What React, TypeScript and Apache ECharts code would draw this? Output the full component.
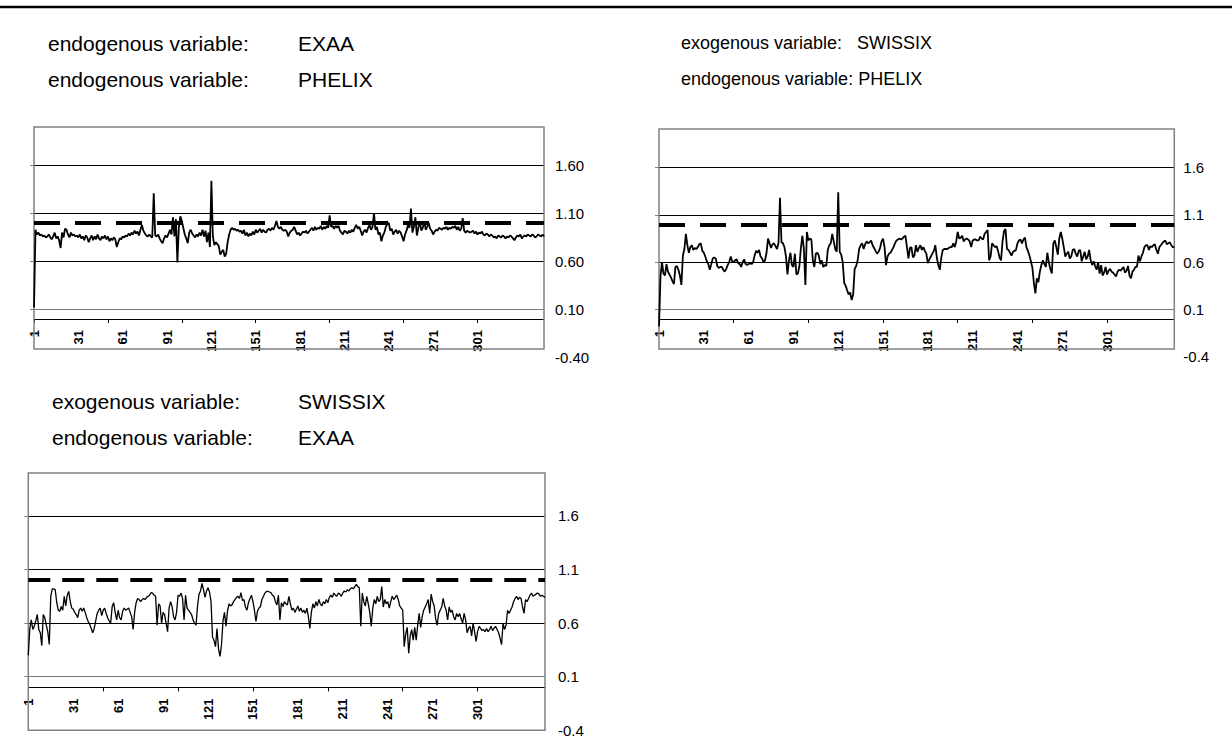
import React, { useEffect, useRef } from "react";
import * as echarts from "echarts";

const N = 346;
const categories: string[] = Array.from({ length: N }, (_, i) => String(i + 1));
const CRITICAL_VALUE = 1.0;
const Y_MIN = -0.4;
const Y_MAX = 2.0;
const Y_STEP = 0.5;
const LAST_LABEL_INDEX = 300;

// panel 1: endogenous EXAA / endogenous PHELIX
const exaaPhelix: number[] = [
  0.12, 0.93, 0.88, 0.90, 0.87, 0.88, 0.86, 0.87, 0.85, 0.86,
  0.88, 0.85, 0.83, 0.86, 0.90, 0.84, 0.86, 0.82, 0.74, 0.90,
  0.85, 0.94, 0.93, 0.88, 0.85, 0.90, 0.87, 0.88, 0.86, 0.87,
  0.85, 0.88, 0.84, 0.86, 0.82, 0.87, 0.85, 0.80, 0.84, 0.87,
  0.82, 0.86, 0.83, 0.88, 0.84, 0.82, 0.86, 0.84, 0.87, 0.83,
  0.86, 0.81, 0.84, 0.82, 0.85, 0.83, 0.75, 0.80, 0.84, 0.83,
  0.86, 0.85, 0.87, 0.86, 0.89, 0.87, 0.90, 0.88, 0.92, 0.89,
  0.91, 0.87, 0.93, 0.98, 0.92, 0.89, 0.87, 0.86, 0.88, 0.86,
  0.85, 1.31, 0.87, 0.86, 0.88, 0.84, 0.81, 0.79, 0.84, 0.87,
  0.85, 0.89, 0.93, 0.88, 1.06, 0.86, 1.04, 0.59, 0.96, 1.07,
  1.02, 0.95, 0.88, 0.84, 0.79, 0.90, 0.93, 0.89, 0.87, 0.85,
  0.88, 0.86, 0.90, 0.87, 0.93, 0.86, 0.92, 0.80, 0.90, 0.75,
  1.44, 0.86, 0.77, 0.80, 0.78, 0.76, 0.67, 0.70, 0.72, 0.65,
  0.68, 0.80, 0.88, 0.93, 0.95, 0.93, 0.94, 0.92, 0.93, 0.91,
  0.92, 0.89, 0.93, 0.87, 0.90, 0.86, 0.89, 0.87, 0.91, 0.88,
  0.93, 0.90, 0.92, 0.94, 0.90, 0.93, 0.91, 0.90, 0.93, 0.94,
  0.92, 0.95, 0.93, 0.97, 1.02, 0.96, 0.94, 0.96, 0.93, 0.92,
  0.93, 0.91, 0.86, 0.90, 0.92, 0.93, 0.96, 0.92, 0.88, 0.90,
  0.87, 0.89, 0.91, 0.90, 0.92, 0.89, 0.91, 0.93, 0.95, 0.92,
  0.96, 0.93, 0.95, 0.94, 0.97, 0.93, 0.96, 0.94, 0.97, 0.95,
  1.08, 0.96, 0.97, 0.94, 0.97, 0.95, 0.97, 0.92, 0.90, 0.88,
  0.92, 0.91, 0.89, 0.92, 0.90, 0.93, 0.91, 0.95, 0.98, 0.94,
  0.96, 0.92, 0.87, 0.91, 0.93, 0.90, 0.95, 0.98, 0.93, 0.96,
  1.10, 0.93, 0.96, 0.88, 0.90, 0.81, 0.87, 0.90, 0.96, 0.99,
  1.00, 0.92, 0.94, 0.88, 0.91, 0.93, 0.89, 0.92, 0.90, 0.86,
  0.81, 0.88, 0.92, 0.98, 0.95, 1.15, 0.90, 0.96, 1.06, 0.87,
  0.95, 1.02, 0.92, 0.95, 1.02, 0.93, 0.96, 1.00, 0.94, 0.92,
  0.88, 0.91, 0.93, 0.92, 0.95, 0.94, 0.93, 0.95, 0.94, 0.96,
  0.93, 0.95, 0.94, 0.96, 0.95, 0.97, 0.93, 0.96, 0.92, 0.94,
  1.05, 0.92, 0.90, 0.92, 0.91, 0.90, 0.91, 0.92, 0.89, 0.91,
  0.88, 0.90, 0.89, 0.91, 0.88, 0.87, 0.89, 0.88, 0.86, 0.88,
  0.87, 0.85, 0.86, 0.84, 0.87, 0.86, 0.85, 0.87, 0.86, 0.84,
  0.86, 0.85, 0.87, 0.86, 0.84, 0.82, 0.85, 0.87, 0.86, 0.88,
  0.84, 0.86, 0.87, 0.86, 0.88, 0.87, 0.86, 0.88, 0.87, 0.85,
  0.86, 0.88, 0.87, 0.86, 0.88, 0.86,
];

// panel 2: exogenous SWISSIX / endogenous PHELIX
const swissixPhelix: number[] = [
  -0.08, 0.45, 0.60, 0.48, 0.46, 0.58, 0.50, 0.47, 0.44, 0.40,
  0.37, 0.55, 0.56, 0.52, 0.46, 0.36, 0.67, 0.74, 0.90, 0.78,
  0.70, 0.76, 0.78, 0.73, 0.75, 0.74, 0.76, 0.79, 0.80, 0.72,
  0.70, 0.66, 0.61, 0.58, 0.52, 0.58, 0.64, 0.65, 0.64, 0.56,
  0.54, 0.55, 0.55, 0.52, 0.50, 0.53, 0.57, 0.60, 0.66, 0.61,
  0.60, 0.62, 0.63, 0.59, 0.58, 0.55, 0.60, 0.63, 0.58, 0.57,
  0.58, 0.59, 0.58, 0.60, 0.67, 0.72, 0.70, 0.73, 0.66, 0.64,
  0.60, 0.62, 0.70, 0.85, 0.80, 0.75, 0.79, 0.80, 0.77, 0.74,
  0.80, 1.28, 0.81, 0.80, 0.76, 0.66, 0.47, 0.62, 0.70, 0.57,
  0.55, 0.69, 0.47, 0.48, 0.56, 0.75, 0.88, 0.74, 0.36, 0.92,
  0.83, 0.85, 0.84, 0.62, 0.55, 0.69, 0.70, 0.67, 0.58, 0.62,
  0.55, 0.57, 0.56, 0.73, 0.78, 0.80, 0.90, 0.82, 0.74, 0.71,
  1.34, 0.71, 0.68, 0.60, 0.38, 0.35, 0.30, 0.26, 0.28, 0.20,
  0.26, 0.53, 0.56, 0.62, 0.74, 0.78, 0.80, 0.74, 0.79, 0.82,
  0.80, 0.81, 0.83, 0.78, 0.75, 0.72, 0.69, 0.71, 0.75, 0.82,
  0.85, 0.76, 0.57, 0.66, 0.69, 0.70, 0.73, 0.76, 0.80, 0.83,
  0.84, 0.85, 0.84, 0.85, 0.87, 0.88, 0.76, 0.64, 0.75, 0.76,
  0.65, 0.67, 0.78, 0.71, 0.75, 0.78, 0.73, 0.76, 0.72, 0.69,
  0.59, 0.63, 0.66, 0.69, 0.72, 0.78, 0.65, 0.57, 0.52, 0.65,
  0.73, 0.74, 0.74, 0.74, 0.75, 0.76, 0.76, 0.80, 0.76, 0.82,
  0.92, 0.85, 0.86, 0.88, 0.82, 0.84, 0.85, 0.84, 0.82, 0.76,
  0.83, 0.84, 0.84, 0.83, 0.83, 0.87, 0.85, 0.84, 0.90, 0.92,
  0.94, 0.62, 0.66, 0.80, 0.78, 0.76, 0.77, 0.72, 0.65, 0.62,
  0.82, 0.93, 0.95, 0.74, 0.73, 0.70, 0.67, 0.71, 0.72, 0.73,
  0.80, 0.83, 0.84, 0.80, 0.84, 0.86, 0.76, 0.72, 0.67, 0.61,
  0.54, 0.38, 0.27, 0.43, 0.39, 0.50, 0.57, 0.62, 0.58, 0.55,
  0.70, 0.60, 0.53, 0.48, 0.80, 0.83, 0.76, 0.68, 0.85, 0.92,
  0.85, 0.76, 0.66, 0.69, 0.71, 0.64, 0.66, 0.73, 0.74, 0.69,
  0.66, 0.72, 0.73, 0.61, 0.66, 0.71, 0.63, 0.66, 0.73, 0.62,
  0.57, 0.61, 0.56, 0.52, 0.60, 0.48, 0.57, 0.46, 0.49, 0.55,
  0.47, 0.51, 0.53, 0.50, 0.49, 0.47, 0.45, 0.50, 0.52, 0.51,
  0.53, 0.55, 0.49, 0.51, 0.56, 0.46, 0.43, 0.50, 0.52, 0.55,
  0.55, 0.67, 0.61, 0.66, 0.70, 0.76, 0.78, 0.78, 0.73, 0.77,
  0.76, 0.78, 0.79, 0.73, 0.69, 0.76, 0.78, 0.80, 0.82, 0.83,
  0.79, 0.80, 0.81, 0.78, 0.76, 0.76,
];

// panel 3: exogenous SWISSIX / endogenous EXAA
const swissixExaa: number[] = [
  0.30, 0.55, 0.63, 0.54, 0.57, 0.62, 0.68, 0.54, 0.51, 0.39,
  0.68, 0.65, 0.58, 0.52, 0.40, 0.85, 0.92, 0.92, 0.91, 0.79,
  0.72, 0.71, 0.755, 0.72, 0.85, 0.76, 0.86, 0.895, 0.80, 0.74,
  0.73, 0.70, 0.68, 0.65, 0.72, 0.74, 0.71, 0.74, 0.70, 0.65,
  0.615, 0.59, 0.55, 0.51, 0.55, 0.62, 0.69, 0.72, 0.74, 0.67,
  0.72, 0.74, 0.69, 0.65, 0.62, 0.60, 0.755, 0.79, 0.70, 0.63,
  0.72, 0.65, 0.63, 0.71, 0.74, 0.72, 0.73, 0.74, 0.70, 0.66,
  0.54, 0.70, 0.79, 0.83, 0.82, 0.80, 0.82, 0.83, 0.82, 0.84,
  0.85, 0.86, 0.885, 0.88, 0.86, 0.85, 0.58, 0.78, 0.76, 0.60,
  0.70, 0.68, 0.60, 0.52, 0.74, 0.80, 0.755, 0.66, 0.63, 0.70,
  0.86, 0.85, 0.88, 0.83, 0.63, 0.86, 0.74, 0.72, 0.70, 0.68,
  0.63, 0.60, 0.58, 0.76, 0.87, 0.90, 0.97, 0.91, 0.84, 0.90,
  0.93, 0.89, 0.80, 0.47, 0.44, 0.38, 0.55, 0.36, 0.29, 0.40,
  0.62, 0.70, 0.57, 0.71, 0.78, 0.76, 0.77, 0.80, 0.82, 0.84,
  0.85, 0.83, 0.885, 0.81, 0.82, 0.75, 0.72, 0.79, 0.83, 0.86,
  0.80, 0.72, 0.615, 0.71, 0.74, 0.755, 0.82, 0.85, 0.88, 0.895,
  0.895, 0.89, 0.885, 0.86, 0.85, 0.80, 0.77, 0.86, 0.63, 0.79,
  0.755, 0.80, 0.78, 0.77, 0.85, 0.78, 0.72, 0.74, 0.70, 0.73,
  0.76, 0.71, 0.74, 0.70, 0.72, 0.69, 0.74, 0.66, 0.55, 0.70,
  0.78, 0.74, 0.80, 0.76, 0.82, 0.78, 0.76, 0.80, 0.78, 0.82,
  0.79, 0.84, 0.86, 0.84, 0.88, 0.86, 0.85, 0.88, 0.87, 0.85,
  0.88, 0.90, 0.89, 0.91, 0.90, 0.92, 0.93, 0.92, 0.94, 0.96,
  0.94, 0.93, 0.57, 0.88, 0.80, 0.76, 0.85, 0.78, 0.70, 0.57,
  0.74, 0.82, 0.78, 0.85, 0.80, 0.82, 0.94, 0.75, 0.82, 0.78,
  0.80, 0.74, 0.80, 0.85, 0.82, 0.84, 0.86, 0.82, 0.76, 0.74,
  0.72, 0.38, 0.50, 0.56, 0.32, 0.48, 0.54, 0.44, 0.56, 0.44,
  0.58, 0.69, 0.56, 0.66, 0.72, 0.75, 0.78, 0.82, 0.69, 0.87,
  0.80, 0.76, 0.64, 0.58, 0.69, 0.72, 0.75, 0.83, 0.76, 0.72,
  0.63, 0.75, 0.70, 0.72, 0.66, 0.63, 0.69, 0.66, 0.69, 0.64,
  0.60, 0.69, 0.63, 0.51, 0.55, 0.57, 0.48, 0.60, 0.52, 0.43,
  0.52, 0.57, 0.55, 0.53, 0.54, 0.52, 0.55, 0.52, 0.54, 0.57,
  0.53, 0.55, 0.57, 0.54, 0.51, 0.46, 0.40, 0.60, 0.54, 0.58,
  0.72, 0.69, 0.72, 0.75, 0.80, 0.83, 0.85, 0.82, 0.84, 0.83,
  0.75, 0.69, 0.82, 0.80, 0.83, 0.86, 0.88, 0.85, 0.86, 0.87,
  0.88, 0.87, 0.85, 0.86, 0.85, 0.84,
];

const FONT = '"Liberation Sans", Arial, Helvetica, sans-serif';

type Panel = {
  data: number[];
  grid: { left: number; top: number; width: number; height: number };
  box: { x: number; y: number; width: number; height: number };
  decimals: number;
  labelMargin: number;
  lineWidth: number;
  dash: number[];
  headerFont: number;
  header: { x1: number; x2: number; y: number; label: string; value: string }[];
};

const panels: Panel[] = [
  {
    data: exaaPhelix,
    grid: { left: 34, top: 127, width: 510, height: 230.4 },
    box: { x: 34, y: 127, width: 510, height: 222 },
    decimals: 2,
    labelMargin: 11,
    lineWidth: 1.8,
    dash: [26, 15],
    headerFont: 21,
    header: [
      { x1: 48, x2: 298, y: 43, label: "endogenous variable:", value: "EXAA" },
      { x1: 48, x2: 298, y: 79, label: "endogenous variable:", value: "PHELIX" },
    ],
  },
  {
    data: swissixPhelix,
    grid: { left: 659, top: 129.8, width: 515.3, height: 227 },
    box: { x: 659, y: 129, width: 515.3, height: 220 },
    decimals: 1,
    labelMargin: 9,
    lineWidth: 1.8,
    dash: [26, 15],
    headerFont: 18,
    header: [
      { x1: 681, x2: 857, y: 43, label: "exogenous variable:", value: "SWISSIX" },
      { x1: 681, x2: 0, y: 79, label: "endogenous variable: PHELIX", value: "" },
    ],
  },
  {
    data: swissixExaa,
    grid: { left: 28.3, top: 473, width: 516.7, height: 257.3 },
    box: { x: 28.3, y: 473, width: 516.7, height: 257.3 },
    decimals: 1,
    labelMargin: 13,
    lineWidth: 1.3,
    dash: [22, 12],
    headerFont: 21,
    header: [
      { x1: 52, x2: 298, y: 401, label: "exogenous variable:", value: "SWISSIX" },
      { x1: 52, x2: 298, y: 437, label: "endogenous variable:", value: "EXAA" },
    ],
  },
];

export default function App() {
  const ref = useRef<HTMLDivElement>(null);
  useEffect(() => {
    if (!ref.current) return;
    const chart = echarts.init(ref.current, undefined, { renderer: "svg" });

    const grids: any[] = [];
    const xAxes: any[] = [];
    const yAxes: any[] = [];
    const series: any[] = [];
    const graphics: any[] = [
      {
        type: "line",
        shape: { x1: 0, y1: 7, x2: 1232, y2: 7 },
        style: { stroke: "#000", lineWidth: 2.5 },
      },
    ];

    panels.forEach((p, k) => {
      const zeroY = p.grid.top + (p.grid.height * Y_MAX) / (Y_MAX - Y_MIN);
      grids.push({ ...p.grid, containLabel: false });
      grids.push({
        left: p.grid.left,
        top: p.grid.top,
        width: p.grid.width,
        height: zeroY - p.grid.top,
        containLabel: false,
      });
      xAxes.push({
        type: "category",
        gridIndex: 2 * k,
        data: categories,
        boundaryGap: false,
        show: false,
      });
      xAxes.push({
        type: "category",
        gridIndex: 2 * k + 1,
        data: categories,
        boundaryGap: false,
        position: "bottom",
        axisLine: { onZero: false, lineStyle: { color: "#000", width: 1 } },
        axisTick: {
          show: true,
          interval: (i: number) => i % 50 === 0,
          length: 4,
          lineStyle: { color: "#000", width: 1 },
        },
        axisLabel: {
          interval: (i: number) => i % 30 === 0 && i <= LAST_LABEL_INDEX,
          rotate: 90,
          margin: 11,
          fontSize: 13,
          fontWeight: "bold",
          fontFamily: FONT,
          color: "#000",
        },
        splitLine: { show: false },
      });
      yAxes.push({
        type: "value",
        gridIndex: 2 * k,
        position: "left",
        min: Y_MIN,
        max: Y_MAX,
        interval: Y_STEP,
        axisLine: { show: false },
        axisTick: {
          show: true,
          length: 4,
          customValues: [0.1, 0.6, 1.1, 1.6],
          lineStyle: { color: "#808080", width: 1 },
        },
        axisLabel: { show: false },
        splitLine: { show: false },
      });
      yAxes.push({
        type: "value",
        gridIndex: 2 * k,
        position: "right",
        min: Y_MIN,
        max: Y_MAX,
        interval: Y_STEP,
        axisLine: { show: false },
        axisTick: { show: false },
        axisLabel: {
          margin: p.labelMargin,
          fontSize: 15,
          fontFamily: FONT,
          color: "#000",
          formatter: (v: number) => (v > Y_MAX - 0.2 ? "" : v.toFixed(p.decimals)),
        },
        splitLine: {
          show: true,
          lineStyle: {
            color: ["rgba(0,0,0,0)", "#7a7a7a", "#000", "#000", "#000", "rgba(0,0,0,0)"],
            width: 1,
          },
        },
      });
      yAxes.push({
        type: "value",
        gridIndex: 2 * k + 1,
        min: 0,
        max: 1,
        show: false,
      });
      series.push({
        type: "line",
        xAxisIndex: 2 * k,
        yAxisIndex: 3 * k,
        data: p.data,
        symbol: "none",
        showSymbol: false,
        clip: false,
        lineStyle: { color: "#000", width: p.lineWidth },
        z: 3,
        markLine: {
          silent: true,
          symbol: ["none", "none"],
          label: { show: false },
          lineStyle: { color: "#000", width: 4, type: p.dash },
          data: [{ yAxis: CRITICAL_VALUE }],
          z: 4,
        },
      });
      graphics.push({
        type: "rect",
        shape: { ...p.box },
        style: { fill: "none", stroke: "#808080", lineWidth: 1.5 },
        z: 1,
      });
      p.header.forEach((h) => {
        graphics.push({
          type: "text",
          x: h.x1,
          y: h.y,
          style: { text: h.label, font: `${p.headerFont}px ${FONT}`, fill: "#000", verticalAlign: "middle" },
        });
        if (h.value) {
          graphics.push({
            type: "text",
            x: h.x2,
            y: h.y,
            style: { text: h.value, font: `${p.headerFont}px ${FONT}`, fill: "#000", verticalAlign: "middle" },
          });
        }
      });
    });

    chart.setOption({
      animation: false,
      backgroundColor: "#fff",
      grid: grids,
      xAxis: xAxes,
      yAxis: yAxes,
      series,
      graphic: graphics,
    });
    return () => chart.dispose();
  }, []);
  return (
    <div
      ref={ref}
      style={{ position: "fixed", left: 0, top: 0, width: 1232, height: 744, background: "#fff" }}
    />
  );
}
